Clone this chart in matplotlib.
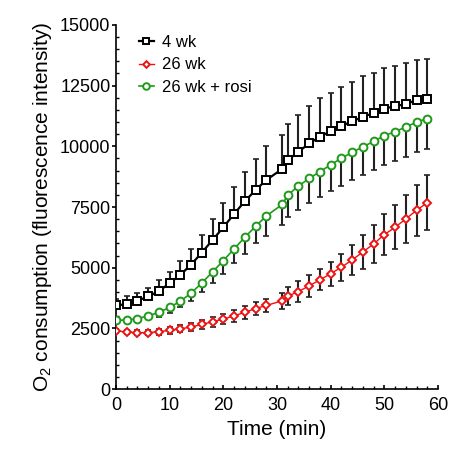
import numpy as np
import matplotlib
matplotlib.use("Agg")
import matplotlib.pyplot as plt
from matplotlib.ticker import MultipleLocator

plt.rcParams['font.family'] = ['Liberation Sans', 'DejaVu Sans']
plt.rcParams['mathtext.fontset'] = 'custom'
plt.rcParams['mathtext.rm'] = 'Liberation Sans'

# sampling times (min)
time = [0, 2, 4, 6, 8, 10, 12, 14, 16, 18, 20, 22, 24, 26, 28,
        31, 32, 34, 36, 38, 40, 42, 44, 46, 48, 50, 52, 54, 56, 58]

# 4 wk (black squares), upper error only
wk4 = [3445, 3500, 3640, 3815, 4035, 4365, 4705, 5130, 5625, 6145,
       6665, 7215, 7735, 8200, 8610, 9075, 9430, 9775, 10120, 10390,
       10625, 10830, 11035, 11210, 11375, 11555, 11650, 11745, 11900, 11940]
wk4_err = [250, 315, 315, 345, 440, 475, 575, 630, 725, 875,
           985, 1120, 1215, 1285, 1400, 1410, 1480, 1535, 1530, 1580,
           1575, 1615, 1615, 1675, 1645, 1670, 1660, 1685, 1670, 1645]

# 26 wk (red diamonds), symmetric error
wk26 = [2405, 2350, 2320, 2330, 2365, 2420, 2485, 2555, 2665, 2775,
        2885, 3020, 3160, 3320, 3445, 3640, 3830, 4020, 4255, 4500,
        4755, 5020, 5320, 5650, 5980, 6365, 6665, 7010, 7365, 7680]
wk26_err = [80, 80, 100, 100, 120, 130, 150, 160, 180, 200,
            220, 240, 260, 280, 260, 330, 380, 420, 450, 430,
            500, 550, 630, 700, 770, 840, 910, 990, 1060, 1120]

# 26 wk + rosi (green circles), lower error only
rosi = [2830, 2850, 2900, 3020, 3160, 3365, 3625, 3955, 4375, 4830,
        5295, 5775, 6255, 6705, 7130, 7610, 7995, 8365, 8680, 8955,
        9240, 9510, 9750, 9980, 10200, 10440, 10605, 10795, 10995, 11145]
rosi_err = [80, 90, 100, 130, 170, 210, 260, 320, 395, 465,
            550, 590, 700, 695, 820, 850, 920, 990, 1015, 1025,
            1080, 1140, 1150, 1175, 1180, 1220, 1220, 1230, 1245, 1260]

zeros = np.zeros(len(time))

fig = plt.figure(figsize=(4.64, 4.53), dpi=100)
ax = fig.add_axes([0.25, 0.141, 0.694, 0.804])

eb_kw = dict(fmt='none', ecolor='#222222', elinewidth=1.5, capsize=2.0, capthick=1.2, zorder=1)
ax.errorbar(time, wk4, yerr=[zeros, wk4_err], **eb_kw)
ax.errorbar(time, rosi, yerr=[rosi_err, zeros], **eb_kw)
ax.errorbar(time, wk26, yerr=[wk26_err, wk26_err], **eb_kw)

ax.plot(time, wk4, color='black', lw=1.6, marker='s', ms=5.6, mfc='white',
        mec='black', mew=1.4, label='4 wk', zorder=3)
ax.plot(time, wk26, color='#ee1111', lw=1.0, marker='D', ms=4.0, mfc='white',
        mec='#ee1111', mew=1.4, label='26 wk', zorder=3)
ax.plot(time, rosi, color='#1f9a1a', lw=1.2, marker='o', ms=5.6, mfc='white',
        mec='#1f9a1a', mew=1.4, label='26 wk + rosi', zorder=3)

ax.set_xlim(0, 60)
ax.set_ylim(0, 15000)
ax.xaxis.set_major_locator(MultipleLocator(10))
ax.xaxis.set_minor_locator(MultipleLocator(2))
ax.yaxis.set_major_locator(MultipleLocator(2500))
ax.yaxis.set_minor_locator(MultipleLocator(500))

for s in ['top', 'right']:
    ax.spines[s].set_visible(False)
for s in ['left', 'bottom']:
    ax.spines[s].set_linewidth(1.2)

ax.tick_params(axis='y', which='major', direction='out', length=3, width=1.2, pad=1, labelsize=13)
ax.tick_params(axis='y', which='minor', direction='in', length=2, width=1)
ax.tick_params(axis='x', which='major', direction='in', length=3, width=1.2, pad=6, labelsize=13)
ax.tick_params(axis='x', which='minor', direction='in', length=2, width=1)

ax.set_xlabel('Time (min)', fontsize=15, labelpad=4)
ax.set_ylabel('O$_2$ consumption (fluorescence intensity)', fontsize=15, labelpad=4)

ax.legend(loc='upper left', bbox_to_anchor=(0.04, 1.0), frameon=False, fontsize=12,
          handlelength=0.9, handletextpad=0.5, labelspacing=0.45, borderaxespad=0.2,
          markerscale=0.85)

fig.savefig('out.png', dpi=100)
